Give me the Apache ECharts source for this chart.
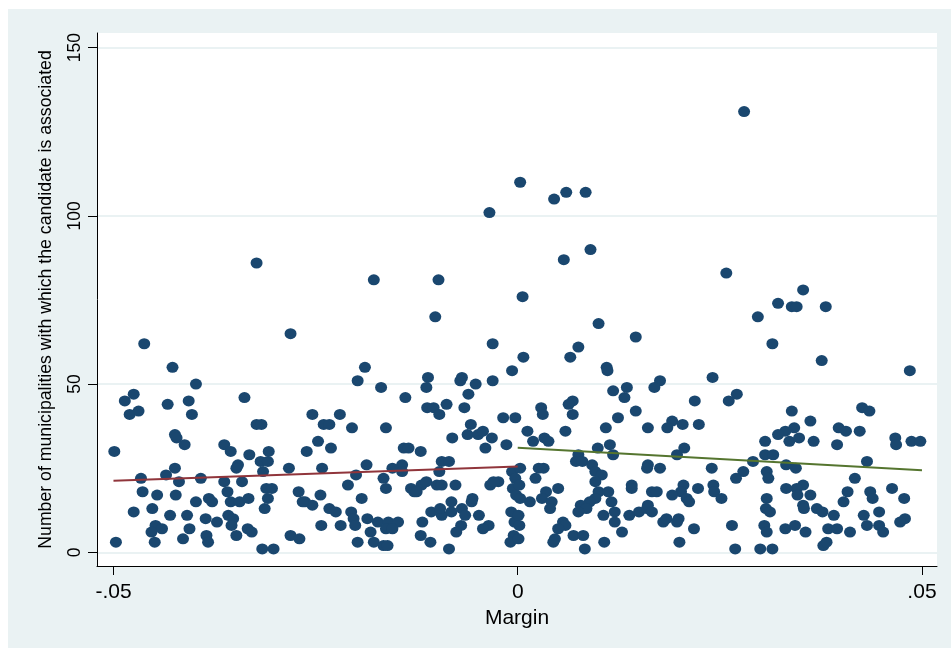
<!DOCTYPE html>
<html>
<head>
<meta charset="utf-8">
<title>Municipalities per candidate by margin</title>
<script src="https://cdn.jsdelivr.net/npm/echarts@6/dist/echarts.min.js"></script>
<style>
  html, body { margin: 0; padding: 0; background: #ffffff; width: 951px; height: 648px; overflow: hidden; }
  #chart { position: absolute; left: 8px; top: 9px; width: 943px; height: 639px; }
</style>
</head>
<body>
<div id="chart"></div>
<script>
// Observations with a positive margin
const marginRight = [
  0.0003, 0.0045, 0.0060, 0.0084, 0.0280, 0.0057, 0.0090, 0.0258, 0.0353, 0.0322,
  0.0339, 0.0345, 0.0381, 0.0297, 0.0315, 0.0376, 0.0485, 0.0271, 0.0261, 0.0339,
  0.0426, 0.0435, 0.0362, 0.0342, 0.0331, 0.0322, 0.0336, 0.0348, 0.0306, 0.0366,
  0.0397, 0.0406, 0.0395, 0.0423, 0.0467, 0.0468, 0.0487, 0.0498, 0.0306, 0.0316,
  0.0291, 0.0332, 0.0344, 0.0432, 0.0279, 0.0270, 0.0308, 0.0310, 0.0417, 0.0353,
  0.0345, 0.0346, 0.0332, 0.0362, 0.0408, 0.0403, 0.0436, 0.0439, 0.0463, 0.0478,
  0.0308, 0.0307, 0.0312, 0.0353, 0.0354, 0.0370, 0.0377, 0.0391, 0.0428, 0.0447,
  0.0479, 0.0473, 0.0265, 0.0305, 0.0308, 0.0331, 0.0343, 0.0356, 0.0384, 0.0395,
  0.0411, 0.0432, 0.0447, 0.0452, 0.0378, 0.0382, 0.0269, 0.0300, 0.0315, 0.0006,
  0.0100, 0.0146, 0.0075, 0.0065, 0.0007, 0.0110, 0.0111, 0.0241, 0.0176, 0.0169,
  0.0118, 0.0135, 0.0132, 0.0068, 0.0063, 0.0029, 0.0031, 0.0068, 0.0146, 0.0219,
  0.0124, 0.0191, 0.0185, 0.0204, 0.0224, 0.0109, 0.0161, 0.0012, 0.0059, 0.0019,
  0.0033, 0.0038, 0.0099, 0.0114, 0.0118, 0.0075, 0.0072, 0.0080, 0.0092, 0.0096,
  0.0104, 0.0096, 0.0161, 0.0160, 0.0176, 0.0197, 0.0206, 0.0240, 0.0026, 0.0032,
  0.0022, 0.0050, 0.0035, 0.0030, 0.0042, 0.0040, 0.0015, 0.0141, 0.0141, 0.0166,
  0.0172, 0.0205, 0.0202, 0.0209, 0.0212, 0.0191, 0.0223, 0.0242, 0.0243, 0.0252,
  0.0100, 0.0112, 0.0116, 0.0096, 0.0089, 0.0078, 0.0085, 0.0075, 0.0106, 0.0120,
  0.0120, 0.0138, 0.0150, 0.0160, 0.0161, 0.0166, 0.0180, 0.0184, 0.0199, 0.0197,
  0.0218, 0.0056, 0.0059, 0.0050, 0.0046, 0.0069, 0.0081, 0.0044, 0.0083, 0.0107,
  0.0129, 0.0200, 0.0003, 0.0002, 0.0003, 0.0001, 0.0002, 0.0001
];
const countRight = [
  110, 105, 107, 107, 131, 87, 90, 83, 78, 74,
  73, 73, 73, 70, 62, 57, 54, 47, 45, 42,
  43, 42, 39, 37, 36, 35, 33, 34, 33, 33,
  37, 36, 32, 36, 34, 32, 33, 33, 29, 29,
  27, 26, 25, 27, 24, 22, 24, 22, 22, 20,
  19, 17, 19, 17, 18, 15, 18, 16, 19, 16,
  16, 13, 12, 14, 13, 13, 12, 11, 11, 12,
  10, 9, 8, 8, 6, 7, 8, 6, 7, 7,
  6, 8, 8, 6, 2, 3, 1, 1, 1, 76,
  68, 64, 61, 58, 58, 55, 54, 52, 51, 49,
  48, 49, 46, 45, 44, 43, 41, 41, 42, 45,
  40, 39, 37, 38, 38, 37, 37, 36, 36, 33,
  34, 33, 31, 32, 29, 29, 27, 27, 26, 24,
  23, 21, 26, 25, 25, 29, 31, 25, 25, 25,
  22, 19, 18, 16, 15, 13, 15, 20, 19, 18,
  18, 20, 18, 16, 15, 17, 19, 20, 18, 16,
  18, 18, 15, 16, 15, 14, 13, 12, 11, 12,
  9, 11, 12, 13, 14, 12, 9, 10, 10, 9,
  7, 9, 8, 7, 4, 5, 5, 3, 1, 3,
  6, 3, 25, 20, 16, 11, 8, 4
];

// Observations with a negative margin
const marginLeft = [
  -0.0323, -0.0178, -0.0098, -0.0035, -0.0007, -0.0003, -0.0006, -0.0002, -0.0008, -0.0004,
  -0.0005, -0.0009, -0.0102, -0.0031, -0.0007, -0.0189, -0.0198, -0.0169, -0.0139, -0.0111,
  -0.0113, -0.0069, -0.0071, -0.0052, -0.0031, -0.0061, -0.0112, -0.0104, -0.0097, -0.0088,
  -0.0066, -0.0018, -0.0003, -0.0254, -0.0220, -0.0240, -0.0233, -0.0205, -0.0163, -0.0058,
  -0.0062, -0.0049, -0.0043, -0.0032, -0.0081, -0.0040, -0.0014, -0.0247, -0.0231, -0.0261,
  -0.0141, -0.0135, -0.0120, -0.0094, -0.0085, -0.0143, -0.0155, -0.0242, -0.0187, -0.0200,
  -0.0166, -0.0163, -0.0143, -0.0097, -0.0210, -0.0244, -0.0193, -0.0132, -0.0128, -0.0119,
  -0.0113, -0.0125, -0.0100, -0.0094, -0.0077, -0.0034, -0.0024, -0.0030, -0.0263, -0.0254,
  -0.0233, -0.0225, -0.0206, -0.0203, -0.0201, -0.0186, -0.0243, -0.0219, -0.0182, -0.0178,
  -0.0173, -0.0160, -0.0148, -0.0163, -0.0155, -0.0166, -0.0161, -0.0198, -0.0107, -0.0094,
  -0.0096, -0.0082, -0.0082, -0.0069, -0.0065, -0.0057, -0.0056, -0.0048, -0.0036, -0.0043,
  -0.0070, -0.0076, -0.0118, -0.0120, -0.0108, -0.0085, -0.0462, -0.0427, -0.0281, -0.0398,
  -0.0486, -0.0475, -0.0480, -0.0469, -0.0433, -0.0407, -0.0403, -0.0338, -0.0323, -0.0317,
  -0.0499, -0.0424, -0.0422, -0.0412, -0.0363, -0.0355, -0.0332, -0.0308, -0.0318, -0.0309,
  -0.0346, -0.0348, -0.0315, -0.0283, -0.0466, -0.0435, -0.0424, -0.0419, -0.0392, -0.0363,
  -0.0341, -0.0359, -0.0464, -0.0446, -0.0423, -0.0398, -0.0382, -0.0378, -0.0355, -0.0344,
  -0.0333, -0.0311, -0.0304, -0.0309, -0.0313, -0.0475, -0.0452, -0.0430, -0.0409, -0.0406,
  -0.0448, -0.0453, -0.0440, -0.0497, -0.0449, -0.0414, -0.0386, -0.0372, -0.0385, -0.0383,
  -0.0358, -0.0352, -0.0354, -0.0348, -0.0334, -0.0329, -0.0316, -0.0302, -0.0281, -0.0270,
  -0.0271, -0.0266
];
const countLeft = [
  86, 81, 81, 101, 24, 22, 19, 17, 12, 9,
  5, 3, 70, 62, 54, 55, 51, 49, 46, 52,
  49, 52, 51, 50, 51, 47, 43, 43, 41, 44,
  43, 40, 40, 41, 41, 38, 38, 37, 37, 38,
  35, 35, 36, 34, 34, 31, 32, 33, 31, 30,
  31, 31, 30, 27, 27, 26, 25, 25, 26, 23,
  22, 19, 24, 24, 20, 17, 16, 19, 18, 20,
  21, 18, 20, 20, 20, 20, 21, 21, 15, 14,
  13, 12, 12, 10, 8, 10, 8, 8, 6, 3,
  9, 9, 9, 7, 7, 2, 2, 3, 12, 11,
  13, 15, 12, 13, 11, 15, 16, 11, 8, 7,
  8, 6, 9, 5, 3, 1, 62, 55, 65, 50,
  45, 47, 41, 42, 44, 45, 41, 46, 38, 38,
  30, 35, 34, 32, 32, 30, 29, 30, 27, 27,
  26, 25, 24, 25, 22, 23, 25, 21, 22, 21,
  21, 18, 18, 17, 17, 15, 16, 15, 15, 15,
  16, 19, 19, 16, 13, 12, 13, 11, 11, 7,
  8, 6, 7, 3, 3, 4, 10, 9, 5, 3,
  11, 10, 8, 5, 7, 6, 1, 1, 5, 4,
  18, 15
];

// Linear fits on each side of the threshold
const fitLeftMargin = [-0.05, 0];
const fitLeftCount = [21.3, 25.5];
const fitRightMargin = [0, 0.05];
const fitRightCount = [31.1, 24.4];

// Axis ticks
const xTickValues = [-0.05, 0, 0.05];
const xTickLabels = ['-.05', '0', '.05'];
const yTickValues = [0, 50, 100, 150];
const yTickLabels = ['0', '50', '100', '150'];

const FONT = '"Liberation Sans", Arial, Helvetica, sans-serif';
const BG = '#eaf2f3';

function pairs(xs, ys) { return xs.map((x, i) => [x, ys[i]]); }
function tickText(values, labels) {
  return v => {
    const i = values.findIndex(t => Math.abs(t - v) < 1e-9);
    return i < 0 ? '' : labels[i];
  };
}

const chart = echarts.init(document.getElementById('chart'), null, { renderer: 'canvas' });

chart.setOption({
  animation: false,
  backgroundColor: BG,
  grid: { left: 89, right: 14, top: 24, bottom: 82, show: true, backgroundColor: '#ffffff', borderWidth: 0 },
  xAxis: {
    type: 'value',
    min: -0.05204,
    max: 0.05186,
    name: 'Margin',
    nameLocation: 'middle',
    nameGap: 38,
    nameTextStyle: { fontFamily: FONT, fontSize: 21, color: '#000000' },
    axisLine: { show: true, onZero: false, lineStyle: { color: '#000000', width: 1 } },
    axisTick: { show: true, length: 9, customValues: xTickValues, lineStyle: { color: '#000000', width: 1 } },
    axisLabel: {
      customValues: xTickValues,
      formatter: tickText(xTickValues, xTickLabels),
      margin: 16,
      fontFamily: FONT, fontSize: 21, color: '#000000'
    },
    splitLine: { show: false }
  },
  yAxis: {
    type: 'value',
    min: -4.07,
    max: 154.37,
    name: 'Number of municipalities with which the candidate is associated',
    nameLocation: 'middle',
    nameGap: 42,
    nameTextStyle: { fontFamily: FONT, fontSize: 17.7, color: '#000000' },
    axisLine: { show: true, onZero: false, lineStyle: { color: '#000000', width: 1 } },
    axisTick: { show: true, length: 9, customValues: yTickValues, lineStyle: { color: '#000000', width: 1 } },
    axisLabel: {
      customValues: yTickValues,
      formatter: tickText(yTickValues, yTickLabels),
      rotate: 90,
      margin: 13,
      fontFamily: FONT, fontSize: 17.5, color: '#000000'
    },
    splitLine: { show: true, lineStyle: { color: BG, width: 2 } }
  },
  series: [
    {
      type: 'scatter',
      data: pairs(marginLeft, countLeft).concat(pairs(marginRight, countRight)),
      symbol: 'circle',
      symbolSize: [12, 11],
      itemStyle: { color: '#1a476f', opacity: 1 },
      z: 2,
      silent: true
    },
    {
      type: 'line',
      data: pairs(fitLeftMargin, fitLeftCount),
      symbol: 'none',
      lineStyle: { color: '#90353b', width: 2 },
      z: 3,
      silent: true
    },
    {
      type: 'line',
      data: pairs(fitRightMargin, fitRightCount),
      symbol: 'none',
      lineStyle: { color: '#55752f', width: 2 },
      z: 3,
      silent: true
    }
  ]
});
</script>
</body>
</html>
